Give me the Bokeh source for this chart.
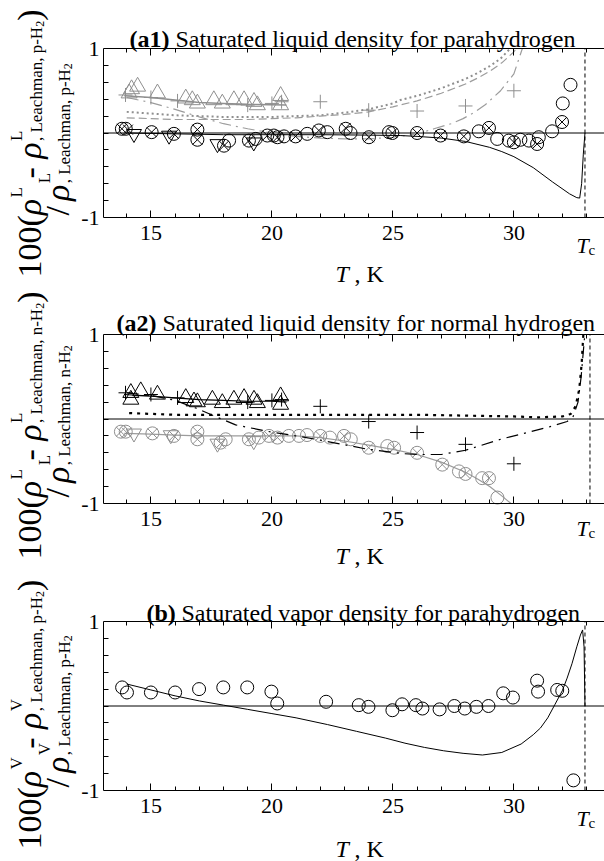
import math
from bokeh.plotting import figure
from bokeh.layouts import column
from bokeh.models import Label, LinearAxis, FixedTicker, Range1d
from bokeh.embed import file_html
from bokeh.resources import INLINE

# ---------------- data ----------------
T_C_PARA = 32.938
T_C_NORMAL = 33.145
X_LO, X_HI = 13.04, 33.745
Y_LO, Y_HI = -1.0, 1.0
X_MAJOR = [15, 20, 25, 30]
X_MINOR = list(range(14, 34))
Y_MAJOR = [-1, 1]
Y_MINOR = [-0.8, -0.6, -0.4, -0.2, 0.0, 0.2, 0.4, 0.6, 0.8]
X_TICK_LABELS = {15: "15", 20: "20", 25: "25", 30: "30"}
Y_TICK_LABELS = {-1: "-1", 1: "1"}
ZERO_T = [X_LO, X_HI]
ZERO_V = [0.0, 0.0]

# (a1) parahydrogen, saturated liquid
a1_circ_T = [13.8, 13.96, 15.03, 15.95, 16.92, 16.92, 18.02, 18.23, 19.05, 19.33, 19.81, 20.08, 20.23, 20.5,
             20.98, 21.46, 21.94, 22.29, 23.05, 23.25, 24.01, 24.84, 24.98, 26.0, 26.97, 27.93, 28.55, 28.97,
             29.31, 29.79, 30.0, 30.27, 30.62, 30.96, 31.03, 31.58, 31.99, 32.02, 32.34]
a1_circ_v = [0.05, 0.05, 0.01, -0.01, 0.04, -0.08, -0.15, -0.09, -0.09, -0.07, -0.03, -0.03, -0.05, -0.04,
             -0.04, -0.01, 0.03, 0.01, 0.05, 0.0, -0.05, 0.01, 0.0, 0.0, -0.03, -0.04, 0.02, 0.06,
             -0.07, -0.09, -0.11, -0.08, -0.09, -0.13, -0.05, 0.02, 0.13, 0.35, 0.57]
a1_x_T = [13.8, 14.05, 15.03, 15.95, 16.92, 16.92, 18.02, 19.05, 19.81, 20.23, 20.98, 21.94, 23.05, 24.01,
          24.98, 26.0, 26.97, 27.93, 28.97, 30.0, 30.96, 31.99]
a1_x_v = [0.05, 0.04, 0.01, -0.01, 0.04, -0.08, -0.15, -0.09, -0.03, -0.05, -0.04, 0.03, 0.06, -0.05,
          0.0, 0.0, -0.03, -0.04, 0.06, -0.11, -0.13, 0.13]
a1_dtri_T = [14.3, 15.75, 17.75, 19.25]
a1_dtri_v = [-0.01, -0.03, -0.13, -0.11]
a1_tri_T = [14.1, 14.2, 14.45, 15.27, 16.44, 16.71, 16.92, 17.6, 17.95, 18.43, 18.85, 19.26, 19.4, 20.36, 20.36]
a1_tri_v = [0.47, 0.52, 0.55, 0.47, 0.41, 0.39, 0.35, 0.39, 0.35, 0.39, 0.39, 0.37, 0.33, 0.44, 0.33]
a1_plus_T = [13.95, 15.0, 16.1, 19.0, 20.0, 20.4, 22.0, 24.0, 26.0, 28.0, 30.0]
a1_plus_v = [0.45, 0.42, 0.38, 0.33, 0.35, 0.37, 0.37, 0.27, 0.26, 0.32, 0.5]
a1_fit_T = [13.9, 15.0, 16.0, 17.0, 18.0, 19.0, 20.6]
a1_fit_v = [0.44, 0.42, 0.39, 0.36, 0.35, 0.34, 0.33]
a1_model_T = [14.0, 16.0, 18.0, 20.0, 22.0, 24.0, 25.3, 26.0, 27.0, 28.0, 29.0, 29.5, 30.0, 30.8, 31.6,
              32.3, 32.6, 32.72, 32.8, 32.87, 32.938]
a1_model_v = [0.0, -0.01, -0.02, -0.02, -0.02, -0.025, -0.03, -0.04, -0.06, -0.1, -0.17, -0.22, -0.28, -0.41,
              -0.58, -0.72, -0.765, -0.77, -0.6, -0.25, 0.0]
a1_dot_T = [14.0, 15.0, 16.0, 17.0, 18.0, 19.0, 20.0, 21.0, 22.0, 23.0, 24.0, 25.0, 25.3, 26.0, 27.0, 28.0,
            28.5, 29.0, 29.45, 29.85]
a1_dot_v = [0.25, 0.23, 0.21, 0.2, 0.19, 0.19, 0.19, 0.2, 0.21, 0.24, 0.28, 0.35, 0.39, 0.44, 0.53, 0.64,
            0.71, 0.79, 0.88, 1.0]
a1_dash_T = [14.0, 15.0, 16.0, 17.0, 18.0, 19.0, 20.0, 21.0, 22.0, 23.0, 24.0, 25.0, 26.0, 27.0, 28.0, 28.5,
             29.0, 29.5, 30.0, 30.1]
a1_dash_v = [0.18, 0.17, 0.16, 0.16, 0.16, 0.16, 0.17, 0.18, 0.2, 0.22, 0.25, 0.31, 0.38, 0.47, 0.58, 0.65,
             0.73, 0.83, 0.96, 1.0]
a1_dd_T = [14.0, 15.0, 16.0, 17.0, 18.0, 19.0, 20.0, 21.0, 22.0, 23.0, 24.0, 25.0, 26.0, 26.7, 27.4, 27.9,
           28.4, 28.8, 29.45, 30.0, 30.35]
a1_dd_v = [0.42, 0.36, 0.28, 0.19, 0.11, 0.05, 0.0, -0.04, -0.06, -0.07, -0.07, -0.05, -0.01, 0.05, 0.11, 0.17,
           0.25, 0.33, 0.5, 0.7, 1.0]

# (a2) normal hydrogen, saturated liquid
a2_tri_T = [14.17, 14.58, 14.17, 15.27, 16.44, 16.78, 16.92, 17.54, 17.95, 18.43, 18.85, 19.26, 19.4, 20.36, 20.36]
a2_tri_v = [0.31, 0.33, 0.23, 0.29, 0.25, 0.21, 0.2, 0.23, 0.19, 0.23, 0.25, 0.23, 0.19, 0.27, 0.17]
a2_plus_T = [13.95, 15.0, 16.1, 19.0, 20.0, 20.4, 22.0, 24.0, 26.0, 28.0, 30.0]
a2_plus_v = [0.31, 0.29, 0.25, 0.2, 0.22, 0.23, 0.15, -0.03, -0.16, -0.3, -0.53]
a2_fit_T = [13.9, 15.0, 16.0, 17.0, 18.0, 19.0, 20.0, 20.6]
a2_fit_v = [0.29, 0.27, 0.25, 0.23, 0.22, 0.21, 0.21, 0.2]
a2_dot_T = [14.1, 16.0, 18.0, 20.0, 22.0, 24.0, 26.0, 28.0, 30.0, 31.0, 32.0, 32.35, 32.55, 32.7, 32.8, 32.87]
a2_dot_v = [0.07, 0.05, 0.05, 0.05, 0.05, 0.05, 0.05, 0.04, 0.03, 0.02, 0.03, 0.06, 0.15, 0.35, 0.65, 1.0]
a2_dd_T = [14.0, 15.0, 16.0, 16.85, 17.5, 18.5, 19.9, 21.2, 22.0, 24.0, 25.4, 26.0, 27.0, 28.0, 29.45, 30.7,
           31.5, 32.2, 32.45, 32.65, 32.78, 32.87, 32.93]
a2_dd_v = [0.31, 0.28, 0.22, 0.13, 0.05, -0.07, -0.15, -0.21, -0.25, -0.36, -0.41, -0.42, -0.42, -0.37, -0.24,
           -0.15, -0.09, -0.03, 0.03, 0.2, 0.5, 0.8, 1.0]
a2_circ_T = [13.76, 13.96, 15.06, 15.95, 16.92, 16.92, 17.88, 18.09, 19.05, 19.46, 19.88, 20.23, 20.7, 21.12,
             21.45, 22.0, 22.4, 22.98, 23.26, 24.0, 24.77, 25.05, 26.0, 27.04, 27.73, 28.0, 28.69, 28.97, 29.32]
a2_circ_v = [-0.15, -0.15, -0.17, -0.2, -0.15, -0.24, -0.28, -0.24, -0.24, -0.22, -0.2, -0.22, -0.2, -0.2,
             -0.19, -0.2, -0.22, -0.2, -0.24, -0.34, -0.32, -0.34, -0.4, -0.54, -0.62, -0.65, -0.7, -0.7, -0.93]
a2_x_T = [13.76, 14.0, 15.06, 15.95, 16.92, 16.92, 17.88, 19.05, 19.88, 20.23, 22.0, 22.98, 24.0, 25.05, 26.0,
          27.04, 28.0, 28.97]
a2_x_v = [-0.15, -0.16, -0.17, -0.2, -0.15, -0.24, -0.29, -0.24, -0.2, -0.22, -0.2, -0.2, -0.34, -0.34, -0.4,
          -0.54, -0.65, -0.7]
a2_dtri_T = [14.3, 15.82, 17.75, 19.25]
a2_dtri_v = [-0.17, -0.19, -0.29, -0.26]
a2_gray_T = [13.9, 15.0, 16.0, 17.0, 18.0, 19.0, 20.0, 21.0, 22.0, 23.0, 24.0, 25.0, 26.0, 27.0, 28.0, 28.5,
             29.0, 29.5, 29.88]
a2_gray_v = [-0.17, -0.18, -0.19, -0.2, -0.2, -0.2, -0.2, -0.2, -0.22, -0.26, -0.31, -0.36, -0.42, -0.51, -0.63,
             -0.71, -0.8, -0.91, -1.0]

# (b) parahydrogen, saturated vapor
b_circ_T = [13.81, 14.01, 15.0, 16.0, 16.99, 17.99, 18.98, 19.98, 20.22, 22.24, 23.59, 23.99, 24.98, 25.38,
            25.95, 26.22, 26.93, 27.54, 27.97, 28.45, 28.95, 29.56, 29.96, 30.96, 31.0, 31.79, 32.0, 32.46]
b_circ_v = [0.22, 0.16, 0.16, 0.16, 0.2, 0.22, 0.22, 0.17, 0.03, 0.05, 0.01, -0.01, -0.05, 0.02,
            0.01, -0.03, -0.04, 0.0, -0.03, -0.01, 0.0, 0.15, 0.1, 0.3, 0.17, 0.19, 0.18, -0.88]
b_model_T = [14.0, 15.0, 16.0, 17.0, 18.0, 19.0, 20.0, 21.0, 22.3, 23.5, 24.7, 25.5, 26.3, 27.1, 27.9, 28.7,
             29.5, 30.3, 30.8, 31.1, 31.4, 31.7, 32.0, 32.2, 32.4, 32.6, 32.75, 32.84, 32.9, 32.938]
b_model_v = [0.26, 0.19, 0.12, 0.06, 0.01, -0.04, -0.09, -0.14, -0.22, -0.3, -0.38, -0.44, -0.49, -0.53, -0.56,
             -0.58, -0.55, -0.45, -0.34, -0.26, -0.14, 0.02, 0.18, 0.33, 0.5, 0.7, 0.84, 0.9, 0.7, 0.0]

# ---------------- layout helpers ----------------
FONT = "Liberation Serif"
FRAME_L = 103          # px of the plotting box's left edge
FRAME_TOP = 48         # px of the plotting box's top edge (inside each panel)
FRAME_H = 169
FRAME_B = FRAME_TOP + FRAME_H
PX_PER_K = 24.2
PX_PER_V = FRAME_H / 2.0
GRAY = "#8f8f8f"
GRAY_L = "#9c9c9c"

WID = {'0': 500, '1': 500, '2': 500, '(': 333, ')': 333, ' ': 250, '-': 333, ',': 250, '/': 278,
       'L': 611, 'V': 722, 'H': 722, 'e': 444, 'a': 444, 'c': 444, 'h': 500, 'm': 778, 'n': 500,
       'p': 500, 'ρ': 520}


def tw(s, size):
    return sum(WID.get(c, 500) for c in s) * size / 1000.0


def put(p, X, Y, text, size, style="normal", align="left", baseline="alphabetic", angle=0.0):
    p.add_layout(Label(x=X, y=p.height - Y, x_units="screen", y_units="screen",
                       text=text, text_font=FONT, text_font_size=f"{size}px",
                       text_font_style=style, text_align=align, text_baseline=baseline,
                       angle=angle, text_color="black"))


def make_panel(h, tc):
    x_start = X_LO - FRAME_L / PX_PER_K
    y_end = Y_HI + FRAME_TOP / PX_PER_V
    y_start = Y_LO - (h - FRAME_B) / PX_PER_V
    p = figure(width=604, height=h, x_range=Range1d(x_start, X_HI), y_range=Range1d(y_start, y_end),
               output_backend="svg", toolbar_location=None, tools="",
               x_axis_location=None, y_axis_location=None, min_border=0,
               min_border_left=0, min_border_right=0, min_border_top=0, min_border_bottom=0)
    p.outline_line_color = None
    p.background_fill_color = "white"
    p.border_fill_color = "white"
    p.grid.visible = False
    xt = FixedTicker(ticks=X_MAJOR, minor_ticks=X_MINOR)
    bottom = LinearAxis(ticker=xt, major_label_overrides=X_TICK_LABELS, fixed_location=Y_LO,
                        bounds=(X_LO, X_HI))
    top = LinearAxis(ticker=xt, fixed_location=Y_HI, bounds=(X_LO, X_HI))
    for ax in (bottom, top):
        ax.major_tick_in = 7
        ax.major_tick_out = 0
        ax.minor_tick_in = 4
        ax.minor_tick_out = 0
        ax.axis_line_color = "black"
        ax.major_tick_line_color = "black"
        ax.minor_tick_line_color = "black"
    bottom.major_label_text_font = FONT
    bottom.major_label_text_font_size = "22px"
    bottom.major_label_text_color = "black"
    bottom.major_label_standoff = 8
    top.major_label_text_color = None
    top.major_label_text_font_size = "1px"
    top.major_label_standoff = 0
    left = LinearAxis(ticker=FixedTicker(ticks=Y_MAJOR, minor_ticks=Y_MINOR),
                      major_label_overrides=Y_TICK_LABELS, fixed_location=X_LO, bounds=(Y_LO, Y_HI))
    left.major_tick_in = 0
    left.major_tick_out = 0
    left.minor_tick_in = 5
    left.minor_tick_out = 0
    left.axis_line_color = "black"
    left.minor_tick_line_color = "black"
    left.major_label_text_font = FONT
    left.major_label_text_font_size = "22px"
    left.major_label_text_color = "black"
    left.major_label_standoff = 4
    p.add_layout(bottom, "below")
    p.add_layout(top, "above")
    p.add_layout(left, "left")
    p.line(ZERO_T, ZERO_V, line_color="black", line_width=1)
    p.line([tc, tc], [Y_LO, Y_HI], line_color="black", line_width=1, line_dash="4 3")
    return p


def decorate(p, bold, rest, tx, ty, sym, mol, s0, xl_y, tick_y):
    put(p, tx, ty, bold, 24, style="bold")
    put(p, tx + (46 if len(bold) == 4 else 35), ty, rest, 24)
    # x-axis label
    put(p, 335, xl_y, "T", 24, style="italic")
    put(p, 354, xl_y, ", K", 24)
    # T_c label
    put(p, 576, tick_y, "T", 22, style="italic")
    put(p, 588, tick_y + 4, "c", 15)
    # y-axis label (rotated, two lines; superscript and subscript stacked)
    M, S, SS = 34, 17, 12
    x1, x2 = 29, 57
    A = math.pi / 2
    sub = ", Leachman, " + mol + "-H"
    y = s0
    put(p, x1, y, "100(", M, angle=A); y -= tw("100(", M)
    put(p, x1, y, "ρ", M, style="italic", angle=A); y -= tw("ρ", M)
    put(p, x1 - 13, y, sym, S, angle=A); y -= tw(sym, S) + tw(" ", M)
    put(p, x1, y, "-", M, angle=A); y -= tw("-", M) + tw(" ", M)
    put(p, x1, y, "ρ", M, style="italic", angle=A); y -= tw("ρ", M)
    put(p, x1 - 13, y, sym, S, angle=A)
    put(p, x1 + 7, y, sub, S, angle=A); y -= tw(sub, S)
    put(p, x1 + 10, y, "2", SS, angle=A); y -= tw("2", SS)
    put(p, x1, y, ")", M, angle=A)
    y = s0 - 62
    put(p, x2, y, "/", M, angle=A); y -= tw("/", M) + 5
    put(p, x2, y, "ρ", M, style="italic", angle=A); y -= tw("ρ", M)
    put(p, x2 - 13, y, sym, S, angle=A)
    put(p, x2 + 7, y, sub, S, angle=A); y -= tw(sub, S)
    put(p, x2 + 10, y, "2", SS, angle=A)


def markers(p, T, v, marker, size, color, width=1.0):
    p.scatter(T, v, marker=marker, size=size, fill_color=None, line_color=color, line_width=width)


# ---------------- panel (a1) ----------------
p1 = make_panel(286, T_C_PARA)
p1.line(a1_dot_T, a1_dot_v, line_color=GRAY, line_width=2, line_dash="2 3")
p1.line(a1_dash_T, a1_dash_v, line_color=GRAY_L, line_width=1.2, line_dash="8 4")
p1.line(a1_dd_T, a1_dd_v, line_color=GRAY_L, line_width=1.2, line_dash="12 5 2 5")
p1.line(a1_fit_T, a1_fit_v, line_color=GRAY, line_width=1.5)
p1.line(a1_model_T, a1_model_v, line_color="black", line_width=1)
markers(p1, a1_tri_T, a1_tri_v, "triangle", 16, GRAY)
markers(p1, a1_plus_T, a1_plus_v, "cross", 14, GRAY)
markers(p1, a1_circ_T, a1_circ_v, "circle", 13, "black")
markers(p1, a1_x_T, a1_x_v, "x", 14, "black")
markers(p1, a1_dtri_T, a1_dtri_v, "inverted_triangle", 15, "black")
decorate(p1, "(a1)", "Saturated liquid density for parahydrogen", 129, 38, "L", "p", 277, 273, 245)

# ---------------- panel (a2) ----------------
p2 = make_panel(287, T_C_NORMAL)
p2.line(a2_gray_T, a2_gray_v, line_color=GRAY_L, line_width=1.2)
markers(p2, a2_circ_T, a2_circ_v, "circle", 13, GRAY)
markers(p2, a2_x_T, a2_x_v, "x", 14, GRAY)
markers(p2, a2_dtri_T, a2_dtri_v, "inverted_triangle", 15, GRAY)
p2.line(a2_dot_T, a2_dot_v, line_color="black", line_width=2.2, line_dash="3 5")
p2.line(a2_dd_T, a2_dd_v, line_color="black", line_width=1.2, line_dash="12 6 2 6")
p2.line(a2_fit_T, a2_fit_v, line_color="black", line_width=1.2)
markers(p2, a2_tri_T, a2_tri_v, "triangle", 16, "black")
markers(p2, a2_plus_T, a2_plus_v, "cross", 14, "black")
decorate(p2, "(a2)", "Saturated liquid density for normal hydrogen", 116, 36, "L", "n", 273, 269, 242)

# ---------------- panel (b) ----------------
p3 = make_panel(288, T_C_PARA)
p3.line(b_model_T, b_model_v, line_color="black", line_width=1)
markers(p3, b_circ_T, b_circ_v, "circle", 13, "black")
decorate(p3, "(b)", "Saturated vapor density for parahydrogen", 146, 39, "V", "p", 276, 275, 245)

layout = column(p1, p2, p3, spacing=0)
open("out.html", "w").write(file_html(layout, INLINE))
